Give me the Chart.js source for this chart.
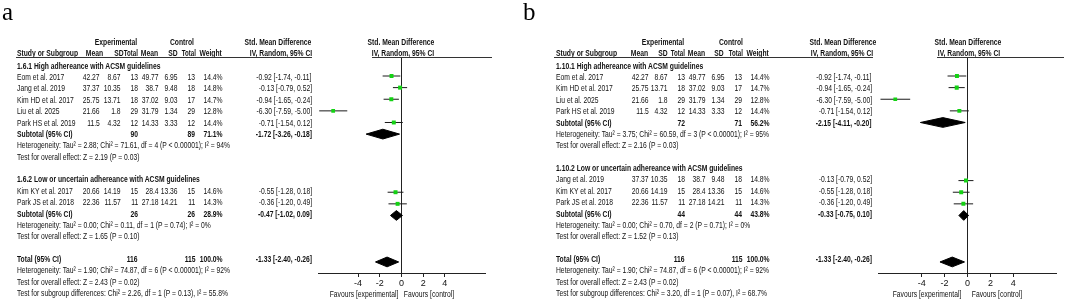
<!DOCTYPE html>
<html><head><meta charset="utf-8">
<script src="https://cdn.jsdelivr.net/npm/chart.js@4.4.1/dist/chart.umd.min.js"></script>
<style>
html,body{margin:0;padding:0;background:#fff;}
#root{position:relative;width:1065px;height:305px;overflow:hidden;background:#fff;}
canvas{position:absolute;top:0;}
.t{position:absolute;white-space:nowrap;font-family:"Liberation Sans",Arial,sans-serif;font-size:9px;line-height:1;color:#111;}
.b{font-weight:bold;}
.ln{position:absolute;height:1px;background:#333;}
.lab{position:absolute;font-family:"Liberation Serif","Times New Roman",serif;font-size:25px;line-height:1;color:#000;}
</style></head>
<body><div id="root">
<canvas id="ca" width="530" height="305" style="left:0"></canvas>
<canvas id="cb" width="535" height="305" style="left:530px"></canvas>
</div>
<script>
// ---------------- DATA ----------------
const studyNames = ['Eom et al. 2017','Jang et al. 2019','Kim HD et al. 2017','Liu et al. 2025','Park HS et al. 2019','Kim KY et al. 2017','Park JS et al. 2018'];
const expMean = [42.27, 37.37, 25.75, 21.66, 11.5, 20.66, 22.36];
const expSD   = [8.67, 10.35, 13.71, 1.8, 4.32, 14.19, 11.57];
const expN    = [13, 18, 18, 29, 12, 15, 11];
const ctlMean = [49.77, 38.7, 37.02, 31.79, 14.33, 28.4, 27.18];
const ctlSD   = [6.95, 9.48, 9.03, 1.34, 3.33, 13.36, 14.21];
const ctlN    = [13, 18, 17, 29, 12, 15, 11];
const weights = [14.4, 14.8, 14.7, 12.8, 14.4, 14.6, 14.3];
const smd     = [-0.92, -0.13, -0.94, -6.30, -0.71, -0.55, -0.36];
const smdLo   = [-1.74, -0.79, -1.65, -7.59, -1.54, -1.28, -1.20];
const smdHi   = [-0.11, 0.52, -0.24, -5.00, 0.12, 0.18, 0.49];

const subgroupLabels = ['High adhereance with ACSM guidelines', 'Low or uncertain adhereance with ACSM guidelines'];

// panel a
const subIdsA   = ['1.6.1', '1.6.2'];
const membersA  = [[0, 1, 2, 3, 4], [5, 6]];
const subNexpA  = [90, 26];
const subNctlA  = [89, 26];
const subWA     = [71.1, 28.9];
const subEstA   = [-1.72, -0.47];
const subLoA    = [-3.26, -1.02];
const subHiA    = [-0.18, 0.09];
const subHetA   = ['Tau\u00b2 = 2.88; Chi\u00b2 = 71.61, df = 4 (P < 0.00001); I\u00b2 = 94%', 'Tau\u00b2 = 0.00; Chi\u00b2 = 0.11, df = 1 (P = 0.74); I\u00b2 = 0%'];
const subZA     = ['Z = 2.19 (P = 0.03)', 'Z = 1.65 (P = 0.10)'];
const subDiffA  = 'Chi\u00b2 = 2.26, df = 1 (P = 0.13), I\u00b2 = 55.8%';

// panel b
const subIdsB   = ['1.10.1', '1.10.2'];
const membersB  = [[0, 2, 3, 4], [1, 5, 6]];
const subNexpB  = [72, 44];
const subNctlB  = [71, 44];
const subWB     = [56.2, 43.8];
const subEstB   = [-2.15, -0.33];
const subLoB    = [-4.11, -0.75];
const subHiB    = [-0.20, 0.10];
const subHetB   = ['Tau\u00b2 = 3.75; Chi\u00b2 = 60.59, df = 3 (P < 0.00001); I\u00b2 = 95%', 'Tau\u00b2 = 0.00; Chi\u00b2 = 0.70, df = 2 (P = 0.71); I\u00b2 = 0%'];
const subZB     = ['Z = 2.16 (P = 0.03)', 'Z = 1.52 (P = 0.13)'];
const subDiffB  = 'Chi\u00b2 = 3.20, df = 1 (P = 0.07), I\u00b2 = 68.7%';

// overall
const totalNexp = 116, totalNctl = 115, totalW = 100.0;
const totalEst = -1.33, totalLo = -2.40, totalHi = -0.26;
const totalHet = 'Tau\u00b2 = 1.90; Chi\u00b2 = 74.87, df = 6 (P < 0.00001); I\u00b2 = 92%';
const totalZ = 'Z = 2.43 (P = 0.02)';
const xTicks = [-4, -2, 0, 2, 4];

// ---------------- LAYOUT ----------------
const W = 1065, SX = 0.75;
const root = document.getElementById('root');
const rowY = r => 43 + 11.37 * r;
const HDR0 = 42.3, HDR1 = 53.0;
const Y_MIN = 1.365, Y_MAX = 19.95, DH = 0.42;

function txt(s, x, y, align, bold, sx) {
  const k = sx || SX;
  const e = document.createElement('span');
  e.className = 't' + (bold ? ' b' : '');
  e.textContent = s;
  e.style.top = y + 'px';
  if (align === 'r') {
    e.style.right = (W - x) + 'px';
    e.style.transformOrigin = '100% 50%';
    e.style.transform = 'translateY(-50%) scaleX(' + k + ')';
  } else if (align === 'c') {
    e.style.left = x + 'px';
    e.style.transformOrigin = '50% 50%';
    e.style.transform = 'translate(-50%,-50%) scaleX(' + k + ')';
  } else {
    e.style.left = x + 'px';
    e.style.transformOrigin = '0 50%';
    e.style.transform = 'translateY(-50%) scaleX(' + k + ')';
  }
  root.appendChild(e);
}
function hline(x1, x2, y) {
  const d = document.createElement('div');
  d.className = 'ln';
  d.style.left = x1 + 'px'; d.style.width = (x2 - x1) + 'px'; d.style.top = y + 'px';
  root.appendChild(d);
}
function label(s, x, y) {
  const d = document.createElement('div');
  d.className = 'lab'; d.textContent = s;
  d.style.left = x + 'px'; d.style.top = y + 'px';
  root.appendChild(d);
}
const ci = (e, l, h) => e.toFixed(2) + ' [' + l.toFixed(2) + ', ' + h.toFixed(2) + ']';

function buildPanel(canvasId, L, ids, members, sNe, sNc, sW, sEst, sLo, sHi, sHet, sZ, sDiff) {
  txt('Experimental', L.expC, HDR0, 'c', true);
  txt('Control', L.ctlC, HDR0, 'c', true);
  txt('Std. Mean Difference', L.smdC, HDR0, 'c', true);
  txt('Std. Mean Difference', L.forestC, HDR0, 'c', true);
  txt('Study or Subgroup', L.study, HDR1, 'l', true);
  const hdrs = ['Mean', 'SD', 'Total', 'Mean', 'SD', 'Total', 'Weight', 'IV, Random, 95% CI'];
  hdrs.forEach((h, k) => txt(h, L.hdr[k], HDR1, 'r', true, (h === 'Total' ? 0.68 : SX)));
  txt('IV, Random, 95% CI', L.forestIVC, HDR1, 'c', true);
  hline(L.line1[0], L.line1[1], 57);
  hline(L.line2[0], L.line2[1], 57);

  const sq = [], sqR = [], cis = [], dias = [];
  let r = 2;
  ids.forEach((id, g) => {
    txt(id + ' ' + subgroupLabels[g], L.study, rowY(r), 'l', true); r++;
    members[g].forEach(i => {
      const y = rowY(r);
      txt(studyNames[i], L.study, y, 'l');
      const vals = [expMean[i], expSD[i], expN[i], ctlMean[i], ctlSD[i], ctlN[i], weights[i].toFixed(1) + '%', ci(smd[i], smdLo[i], smdHi[i])];
      vals.forEach((v, k) => txt(String(v), L.cols[k], y, 'r'));
      sq.push({x: smd[i], y: r});
      sqR.push(2.8 * Math.sqrt(weights[i] / 14.4));
      cis.push([{x: smdLo[i], y: r}, {x: smdHi[i], y: r}]);
      r++;
    });
    let y = rowY(r);
    txt('Subtotal (95% CI)', L.study, y, 'l', true);
    txt(String(sNe[g]), L.cols[2], y, 'r', true);
    txt(String(sNc[g]), L.cols[5], y, 'r', true);
    txt(sW[g].toFixed(1) + '%', L.cols[6], y, 'r', true);
    txt(ci(sEst[g], sLo[g], sHi[g]), L.cols[7], y, 'r', true);
    dias.push([sEst[g], sLo[g], sHi[g], r]);
    r++;
    txt('Heterogeneity: ' + sHet[g], L.study, rowY(r), 'l'); r++;
    txt('Test for overall effect: ' + sZ[g], L.study, rowY(r), 'l'); r++;
    r++;
  });
  let y = rowY(r);
  txt('Total (95% CI)', L.study, y, 'l', true);
  txt(String(totalNexp), L.cols[2], y, 'r', true);
  txt(String(totalNctl), L.cols[5], y, 'r', true);
  txt(totalW.toFixed(1) + '%', L.cols[6], y, 'r', true);
  txt(ci(totalEst, totalLo, totalHi), L.cols[7], y, 'r', true);
  dias.push([totalEst, totalLo, totalHi, r]);
  r++;
  txt('Heterogeneity: ' + totalHet, L.study, rowY(r), 'l'); r++;
  txt('Test for overall effect: ' + totalZ, L.study, rowY(r), 'l'); r++;
  txt('Test for subgroup differences: ' + sDiff, L.study, rowY(r), 'l');
  txt('Favours [experimental]', L.favL, 293.5, 'c');
  txt('Favours [control]', L.favR, 293.5, 'c');

  const datasets = [];
  datasets.push({type: 'scatter', data: sq, pointStyle: 'rect', pointRadius: sqR, pointHoverRadius: sqR,
    backgroundColor: '#14d214', borderColor: '#14d214', pointBackgroundColor: '#14d214', pointBorderColor: '#14d214',
    borderWidth: 0, pointBorderWidth: 0, showLine: false, order: 0});
  cis.forEach(d => datasets.push({type: 'line', data: d, borderColor: '#1a1a1a', backgroundColor: '#1a1a1a', borderWidth: 1, pointRadius: 0, fill: false, order: 2}));
  dias.forEach(([e, lo, hi, rr]) => {
    datasets.push({type: 'line', data: [{x: lo, y: rr}, {x: e, y: rr - DH}, {x: hi, y: rr}], borderColor: '#000', borderWidth: 1,
      backgroundColor: '#000', pointRadius: 0, fill: '+1', tension: 0, order: 1});
    datasets.push({type: 'line', data: [{x: lo, y: rr}, {x: e, y: rr + DH}, {x: hi, y: rr}], borderColor: '#000', borderWidth: 1,
      backgroundColor: '#000', pointRadius: 0, fill: false, tension: 0, order: 1});
  });
  datasets.push({type: 'line', data: [{x: 0, y: Y_MIN}, {x: 0, y: Y_MAX}], borderColor: '#222', backgroundColor: '#222', borderWidth: 1, pointRadius: 0, fill: false, order: 3});

  new Chart(document.getElementById(canvasId), {
    type: 'scatter',
    data: {datasets},
    options: {
      responsive: false, animation: false, devicePixelRatio: 1,
      layout: {padding: {left: L.padL, right: L.padR, top: 57, bottom: 12}},
      plugins: {legend: {display: false}, tooltip: {enabled: false}},
      events: [],
      scales: {
        x: {
          type: 'linear', position: 'bottom', min: L.xMin, max: L.xMax,
          afterBuildTicks: s => { s.ticks = xTicks.map(v => ({value: v})); },
          afterFit: s => { s.height = 20; },
          grid: {drawOnChartArea: false, drawTicks: true, tickLength: 4, color: '#222', tickColor: '#222'},
          border: {display: true, color: '#222', width: 1},
          ticks: {font: {family: 'Liberation Sans', size: 9}, color: '#111', padding: 1, autoSkip: false, maxRotation: 0,
            callback: v => String(v)}
        },
        y: {type: 'linear', reverse: true, min: Y_MIN, max: Y_MAX, display: false}
      }
    }
  });
}

const LA = {study: 17, cols: [100, 120.7, 138, 158.3, 177.3, 195.5, 222.5, 311.7],
  hdr: [103.3, 123.5, 138.3, 158.3, 177.3, 196, 222.3, 311.7], expC: 116, ctlC: 182, smdC: 277.5,
  forestC: 401, forestIVC: 403, line1: [15.7, 311.7], line2: [371.7, 491.7], favL: 364, favR: 429,
  xMin: -7.7, xMax: 7.7, padL: 318, padR: 45};
const LB = {study: 555.7, cols: [649, 667.7, 685, 705.7, 724.3, 742.3, 769.3, 871.7],
  hdr: [648.3, 667.2, 685, 705, 724, 742.7, 769.3, 872.7], expC: 663, ctlC: 731, smdC: 842.5,
  forestC: 967.5, forestIVC: 969, line1: [554, 872.7], line2: [936.7, 1064], favL: 926.7, favR: 996.7,
  xMin: -7.78, xMax: 7.78, padL: 348.3, padR: 8.3};

buildPanel('ca', LA, subIdsA, membersA, subNexpA, subNctlA, subWA, subEstA, subLoA, subHiA, subHetA, subZA, subDiffA);
buildPanel('cb', LB, subIdsB, membersB, subNexpB, subNctlB, subWB, subEstB, subLoB, subHiB, subHetB, subZB, subDiffB);
label('a', 2, -1);
label('b', 523, -1);
</script></body></html>
